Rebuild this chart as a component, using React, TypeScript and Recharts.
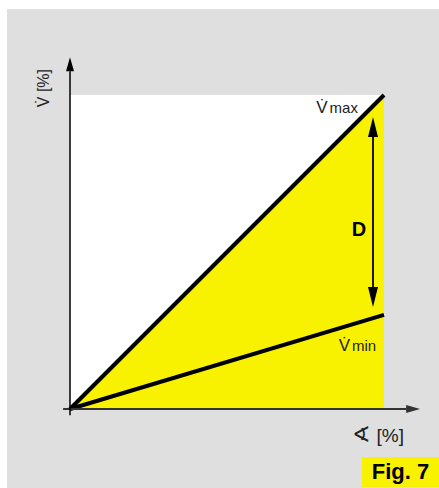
import React from 'react';
import { ComposedChart, Area, Line, XAxis, YAxis, ReferenceLine, ReferenceArea, ReferenceDot, Label } from 'recharts';

// opening angle [%] vs. flow [%]
const openings = [0, 100];
const flowMax = [0, 100];
const flowMin = [0, 30];

// D arrow spans between these flow values at the right edge
const dArrowX = 96.5;
const dArrowFrom = 93;
const dArrowTo = 32.5;

const data = openings.map((x, i) => ({ x, vmax: flowMax[i], vmin: flowMin[i] }));

const YELLOW = '#f8f200';
const FONT = '"Liberation Sans", Arial, sans-serif';

// line with arrowhead(s), drawn from the points the scales give us
function arrowShape(len: number, half: number, both: boolean, color: string, width: number) {
    return (p: any) => {
        const { x1, y1, x2, y2 } = p;
        const dx = x2 - x1, dy = y2 - y1;
        const d = Math.hypot(dx, dy) || 1;
        const ux = dx / d, uy = dy / d;
        const head = (tx: number, ty: number, sx: number, sy: number) => {
            const bx = tx - sx * len, by = ty - sy * len;
            return `${tx},${ty} ${bx - sy * half},${by + sx * half} ${bx + sy * half},${by - sx * half}`;
        };
        const sx1 = both ? x1 + ux * len : x1;
        const sy1 = both ? y1 + uy * len : y1;
        return (
            <g>
                <line x1={sx1} y1={sy1} x2={x2 - ux * len} y2={y2 - uy * len} stroke={color} strokeWidth={width} />
                <polygon points={head(x2, y2, ux, uy)} fill={color} />
                {both && <polygon points={head(x1, y1, -ux, -uy)} fill={color} />}
            </g>
        );
    };
}

function textShape(render: () => React.ReactNode) {
    return (p: any) => <g transform={`translate(${p.cx} ${p.cy})`}>{render()}</g>;
}

export default function App() {
    return (
        <div style={{ position: 'absolute', left: 0, top: 0, width: 439, height: 488, background: '#fff' }}>
            <div style={{ position: 'absolute', left: 7, top: 9, width: 432, height: 479, background: '#dfdfdf' }} />
            <div
                style={{
                    position: 'absolute', left: 362, top: 457, width: 77, height: 30, background: YELLOW,
                    fontFamily: FONT, fontWeight: 'bold', fontSize: 22, lineHeight: '30px', textAlign: 'center', color: '#000',
                }}
            >
                Fig. 7
            </div>
            <div style={{ position: 'absolute', left: 0, top: 0 }}>
                <ComposedChart width={439} height={488} data={data} margin={{ top: 95, left: 70, right: 55, bottom: 79 }}>
                    <XAxis dataKey="x" type="number" domain={[0, 100]} hide />
                    <YAxis type="number" domain={[0, 100]} hide />
                    <ReferenceArea x1={0} x2={100} y1={0} y2={100} fill="#fff" fillOpacity={1} stroke="none" />
                    <Area dataKey="vmax" type="linear" fill={YELLOW} fillOpacity={1} stroke="none" isAnimationActive={false} />
                    <Line dataKey="vmax" type="linear" stroke="#000" strokeWidth={4} dot={false} isAnimationActive={false} />
                    <Line dataKey="vmin" type="linear" stroke="#000" strokeWidth={4} dot={false} isAnimationActive={false} />
                    <ReferenceLine
                        segment={[{ x: -2.2, y: 0 }, { x: 111.5, y: 0 }]}
                        ifOverflow="visible"
                        shape={arrowShape(14, 4, false, '#333', 2)}
                    />
                    <ReferenceLine
                        segment={[{ x: 0, y: -2 }, { x: 0, y: 112 }]}
                        ifOverflow="visible"
                        shape={arrowShape(14, 4, false, '#000', 1.5)}
                    />
                    <ReferenceLine
                        segment={[{ x: dArrowX, y: dArrowTo }, { x: dArrowX, y: dArrowFrom }]}
                        ifOverflow="visible"
                        shape={arrowShape(20, 5, true, '#000', 1.8)}
                    />
                    {/* y axis title sits on an invisible vertical segment left of the axis */}
                    <ReferenceLine
                        segment={[{ x: -8.6, y: 96 }, { x: -8.6, y: 108.4 }]}
                        ifOverflow="visible"
                        stroke="none"
                    >
                        <Label value="V̇ [%]" position="center" angle={-90} fontFamily={FONT} fontSize={16} fill="#222" />
                    </ReferenceLine>
                    <ReferenceDot
                        x={91.7} y={94.3} ifOverflow="visible"
                        shape={textShape(() => (
                            <text x={0} y={0} textAnchor="end" fontFamily={FONT} fill="#222">
                                <tspan fontSize={17}>V̇</tspan><tspan dx={2} fontSize={15}>max</tspan>
                            </text>
                        ))}
                    />
                    <ReferenceDot
                        x={97.5} y={18.5} ifOverflow="visible"
                        shape={textShape(() => (
                            <text x={0} y={0} textAnchor="end" fontFamily={FONT} fill="#222">
                                <tspan fontSize={17}>V̇</tspan><tspan dx={2} fontSize={15}>min</tspan>
                            </text>
                        ))}
                    />
                    <ReferenceDot
                        x={92} y={57.3} ifOverflow="visible"
                        shape={textShape(() => (
                            <text x={0} y={0} textAnchor="middle" dominantBaseline="central" fontFamily={FONT} fontWeight="bold" fontSize={20} fill="#000">
                                D
                            </text>
                        ))}
                    />
                    <ReferenceDot
                        x={98.1} y={-8.3} ifOverflow="visible"
                        shape={textShape(() => (
                            <text x={0} y={7} textAnchor="middle" fontFamily={FONT} fontSize={19} fill="#222">
                                <tspan fontFamily='"DejaVu Sans", sans-serif' fontSize={22}>∢</tspan>
                                <tspan dx={6}>[%]</tspan>
                            </text>
                        ))}
                    />
                </ComposedChart>
            </div>
        </div>
    );
}
